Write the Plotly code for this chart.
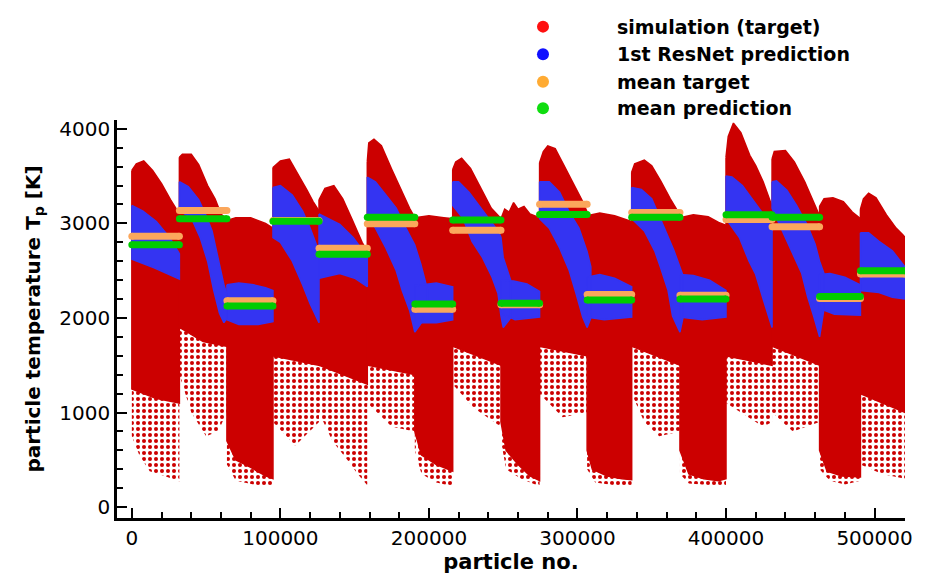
import plotly.graph_objects as go

# ---------------- data (x in thousands of particles, T in K) ----------------
SEG_BOUNDS_K = [0, 32, 64, 95, 126, 158.5, 190.5, 216, 248.5, 274.5, 306.5,
                336.5, 369, 400, 431, 463, 490.5, 520.5]

MEAN_TARGET = [2864, 3135, 2182, 3030, 2736, 2996, 2092, 2927, 2140,
               3203, 2247, 3114, 2240, 3040, 2965, 2205, 2465]
MEAN_PREDICTION = [2774, 3048, 2127, 3022, 2674, 3065, 2147, 3037, 2155,
                   3093, 2189, 3065, 2200, 3090, 3065, 2228, 2500]

# upper envelope of the simulated particle cloud, per segment
RED_TOP = [
    [(0, 3560), (3, 3630), (8, 3660), (14, 3560), (20, 3420), (26, 3250), (32, 3100)],
    [(32, 3700), (34, 3730), (40, 3730), (45, 3620), (51, 3400), (56, 3260), (60, 3100), (64, 3040)],
    [(64, 3030), (70, 3060), (80, 3060), (90, 3000), (95, 2950)],
    [(95, 3590), (100, 3660), (106, 3680), (112, 3520), (118, 3350), (122, 3230), (126, 3130)],
    [(126, 3250), (130, 3370), (136, 3400), (142, 3260), (148, 3050), (155, 2800), (158.5, 2700)],
    [(158.5, 3650), (159.5, 3850), (163, 3890), (168, 3820), (175, 3570), (182, 3330), (187, 3160), (190.5, 3060)],
    [(190.5, 3060), (200, 3080), (210, 3060), (216, 3050)],
    [(216, 3570), (218, 3650), (222, 3690), (228, 3580), (235, 3370), (242, 3160), (248.5, 3050)],
    [(248.5, 3050), (251, 3150), (254, 3120), (257, 3220), (260, 3150), (264, 3180), (268, 3100), (274.5, 3060)],
    [(274.5, 3640), (277, 3760), (280, 3820), (285, 3790), (290, 3640), (297, 3430), (303.5, 3230), (306.5, 3120)],
    [(306.5, 3080), (315, 3110), (325, 3080), (336.5, 3020)],
    [(336.5, 3540), (338.5, 3630), (345, 3670), (350, 3610), (356, 3450), (362.5, 3260), (369, 3090)],
    [(369, 3060), (378, 3090), (388, 3070), (395, 3010), (400, 2980)],
    [(400, 3700), (401.5, 3920), (405, 4060), (410, 3960), (416, 3720), (420, 3610), (425, 3440), (431, 3180)],
    [(431, 3680), (432.5, 3760), (440, 3770), (446, 3650), (453, 3440), (459.5, 3200), (463, 3080)],
    [(463, 3180), (466, 3260), (472, 3270), (479, 3230), (485, 3120), (490.5, 3050)],
    [(490.5, 3150), (492.5, 3260), (496, 3320), (501, 3270), (508, 3090), (514.5, 2950), (519, 2880), (520.5, 2850)],
]

# lower edge of the dense part of the cloud
RED_DENSE_BOTTOM = [
    [(0, 1250), (16, 1150), (32, 1100)],
    [(32, 1900), (48, 1750), (64, 1700)],
    [(64, 700), (70, 500), (80, 420), (90, 330), (95, 300)],
    [(95, 1600), (126, 1500)],
    [(126, 1500), (158.5, 1300)],
    [(158.5, 1500), (190.5, 1400)],
    [(190.5, 800), (195, 550), (205, 450), (216, 380)],
    [(216, 1700), (248.5, 1500)],
    [(248.5, 900), (252, 600), (260, 450), (268, 330), (274.5, 280)],
    [(274.5, 1700), (306.5, 1600)],
    [(306.5, 600), (310, 400), (320, 330), (330, 300), (336.5, 290)],
    [(336.5, 1700), (369, 1500)],
    [(369, 600), (375, 350), (385, 300), (395, 280), (400, 300)],
    [(400, 1600), (431, 1500)],
    [(431, 1700), (463, 1500)],
    [(463, 600), (468, 380), (478, 330), (490.5, 320)],
    [(490.5, 1200), (520.5, 1000)],
]

# lowest scattered particles
RED_SPARSE_BOTTOM = [
    [(0, 750), (5, 550), (12, 380), (22, 330), (32, 270)],
    [(32, 1400), (40, 1000), (50, 750), (58, 800), (64, 1000)],
    [(64, 450), (70, 280), (85, 230), (95, 220)],
    [(95, 900), (110, 650), (126, 900)],
    [(126, 1000), (135, 700), (145, 500), (152, 350), (158.5, 230)],
    [(158.5, 1100), (175, 850), (190.5, 800)],
    [(190.5, 600), (195, 350), (205, 260), (216, 220)],
    [(216, 1300), (230, 1050), (248.5, 850)],
    [(248.5, 700), (252, 400), (262, 300), (274.5, 220)],
    [(274.5, 1200), (290, 950), (306.5, 1000)],
    [(306.5, 400), (312, 260), (325, 230), (336.5, 220)],
    [(336.5, 1200), (345, 900), (355, 750), (369, 800)],
    [(369, 350), (375, 250), (390, 230), (400, 230)],
    [(400, 1100), (415, 950), (425, 850), (431, 900)],
    [(431, 1000), (445, 800), (463, 900)],
    [(463, 400), (470, 280), (480, 240), (490.5, 280)],
    [(490.5, 450), (505, 350), (520.5, 300)],
]

# 1st ResNet prediction band, per segment
BLUE_TOP = [
    [(0, 3190), (7.5, 3130), (16.5, 3020), (25.5, 2850), (32, 2680)],
    [(32, 3440), (38, 3390), (45, 3250), (50, 3080), (54, 2920), (58, 2640), (62, 2350), (64, 2250)],
    [(64, 2350), (72, 2370), (82, 2350), (90, 2320), (95, 2290)],
    [(95, 3380), (100, 3400), (108, 3300), (115, 3130), (120, 2950), (126, 2700)],
    [(126, 3100), (131, 3060), (140, 2990), (149, 2850), (158.5, 2650)],
    [(158.5, 3490), (164, 3440), (171, 3300), (178, 3160), (184.5, 2950), (190.5, 2770), (194.5, 2570), (199, 2300)],
    [(190.5, 2340), (205, 2370), (216, 2330)],
    [(216, 3440), (220, 3440), (227, 3330), (233.5, 3190), (240, 3050), (246.5, 2920), (248.5, 2850), (250, 2640), (255, 2400)],
    [(248.5, 2400), (257, 2390), (266, 2360), (274.5, 2280)],
    [(274.5, 3440), (281, 3440), (288, 3330), (294.5, 3120), (301, 2950), (306.5, 2700), (309, 2540)],
    [(306.5, 2430), (315, 2460), (325, 2420), (336.5, 2330)],
    [(336.5, 3380), (343, 3360), (350, 3260), (354, 3120), (358.5, 2950), (365, 2710), (369, 2540), (371, 2450)],
    [(369, 2460), (378, 2450), (389, 2400), (400, 2290)],
    [(400, 3500), (404, 3490), (411, 3400), (419, 3230), (425, 3100), (431, 2950)],
    [(431, 3440), (434, 3450), (441, 3350), (447.5, 3190), (454.5, 2990), (460, 2780), (463, 2600), (466, 2470)],
    [(463, 2460), (470, 2470), (480, 2430), (490.5, 2350)],
    [(490.5, 2900), (496, 2900), (503, 2810), (512, 2710), (520.5, 2540)],
]

BLUE_BOTTOM = [
    [(0, 2620), (15, 2530), (32, 2410)],
    [(32, 3130), (40, 3060), (46, 2850), (51, 2600), (55, 2300), (59, 2050), (62, 1950), (64, 2000)],
    [(64, 1980), (72, 1930), (85, 1930), (95, 1960)],
    [(95, 2850), (100, 2800), (108, 2600), (115, 2350), (120, 2150), (126, 1950)],
    [(126, 2420), (140, 2470), (150, 2420), (158.5, 2330)],
    [(158.5, 3080), (164, 2950), (171, 2740), (178, 2500), (182, 2290), (187, 2080), (190.5, 1850), (195, 1950), (199, 2150)],
    [(190.5, 1950), (205, 1950), (216, 1980)],
    [(216, 3190), (223, 3050), (229, 2810), (236, 2640), (242.5, 2430), (246.5, 2260), (248.5, 2020), (250, 1900), (255, 2000)],
    [(248.5, 2050), (258, 1980), (274.5, 2010)],
    [(274.5, 3050), (281, 2950), (288, 2740), (294.5, 2500), (299, 2260), (303.5, 2010), (306.5, 1900), (309, 2000)],
    [(306.5, 2010), (318, 1980), (336.5, 2010)],
    [(336.5, 3050), (345, 2920), (352, 2710), (356, 2530), (361, 2290), (364, 2020), (369, 1850), (371, 2000)],
    [(369, 2010), (384, 1980), (400, 2010)],
    [(400, 3050), (409, 2850), (415.5, 2600), (420, 2460), (425, 2200), (431, 1900)],
    [(431, 3160), (437.5, 2950), (444, 2710), (451, 2470), (455, 2220), (459, 2020), (463, 1800), (466, 2100)],
    [(463, 2100), (473, 2040), (490.5, 2030)],
    [(490.5, 2290), (503, 2270), (512, 2220), (520.5, 2200)],
]

LEGEND_LABELS = ["simulation (target)", "1st ResNet prediction", "mean target", "mean prediction"]

# ---------------- styles ----------------
RED = "#cc0000"
BLUE = "#3434f2"
ORANGE = "#fba75c"
GREEN = "#00cc00"
LEGEND_COLORS = ["#ff1010", "#1010ff", "#ffab33", "#10dd10"]
FONT = "DejaVu Sans"


def polygons(uppers, lowers):
    xs, ys = [], []
    for up, lo in zip(uppers, lowers):
        pts = list(up) + list(reversed(lo))
        xs += [p[0] * 1000 for p in pts] + [pts[0][0] * 1000, None]
        ys += [p[1] for p in pts] + [pts[0][1], None]
    return xs, ys


def mean_lines(values):
    xs, ys = [], []
    for i, v in enumerate(values):
        xs += [SEG_BOUNDS_K[i] * 1000, SEG_BOUNDS_K[i + 1] * 1000, None]
        ys += [v, v, None]
    return xs, ys


fig = go.Figure()

# sparse scattered particles: dotted fill
x, y = polygons(RED_DENSE_BOTTOM, RED_SPARSE_BOTTOM)
fig.add_trace(go.Scatter(x=x, y=y, mode="lines", fill="toself", fillcolor="rgba(0,0,0,0)",
                         fillpattern=dict(shape=".", fgcolor=RED, bgcolor="rgba(255,255,255,0)",
                                          fgopacity=1, size=6, solidity=0.36, fillmode="replace"),
                         line=dict(width=0, color="rgba(0,0,0,0)"), hoverinfo="skip", showlegend=False))
x, y = polygons(RED_TOP, RED_DENSE_BOTTOM)
fig.add_trace(go.Scatter(x=x, y=y, mode="lines", fill="toself", fillcolor=RED,
                         line=dict(width=1.5, color=RED), hoverinfo="skip", showlegend=False))
x, y = polygons(BLUE_TOP, BLUE_BOTTOM)
fig.add_trace(go.Scatter(x=x, y=y, mode="lines", fill="toself", fillcolor=BLUE,
                         line=dict(width=1.5, color=BLUE), hoverinfo="skip", showlegend=False))
x, y = mean_lines(MEAN_TARGET)
fig.add_trace(go.Scatter(x=x, y=y, mode="lines+markers", line=dict(width=7, color=ORANGE),
                         marker=dict(size=7, color=ORANGE), hoverinfo="skip", showlegend=False))
x, y = mean_lines(MEAN_PREDICTION)
fig.add_trace(go.Scatter(x=x, y=y, mode="lines+markers", line=dict(width=7, color=GREEN),
                         marker=dict(size=7, color=GREEN), hoverinfo="skip", showlegend=False))

# manual legend (marker circles + labels)
legend_rows_y = [1.2346, 1.1654, 1.0963, 1.0296]
shapes, annotations = [], []
for label, col, yy in zip(LEGEND_LABELS, LEGEND_COLORS, legend_rows_y):
    shapes.append(dict(type="circle", xref="paper", yref="paper", xsizemode="pixel", ysizemode="pixel",
                       xanchor=0.5406, yanchor=yy, x0=-6, x1=6, y0=-6, y1=6,
                       fillcolor=col, line=dict(width=0)))
    annotations.append(dict(xref="paper", yref="paper", x=0.632, y=yy, xanchor="left", yanchor="middle",
                            text=label, showarrow=False,
                            font=dict(family=FONT, size=19, color="black", weight="bold")))

axis_common = dict(showline=True, linecolor="black", linewidth=2.5, ticks="inside", ticklen=10,
                   tickwidth=2, tickcolor="black", showgrid=False, zeroline=False, mirror=False,
                   tickfont=dict(family=FONT, size=20, color="black"))

fig.update_layout(
    width=928, height=582,
    margin=dict(l=117, r=23, t=120, b=57),
    paper_bgcolor="white", plot_bgcolor="white",
    shapes=shapes, annotations=annotations,
    xaxis=dict(range=[-10000, 520500], tick0=0, dtick=100000, tickformat="d",
               minor=dict(ticks="inside", ticklen=6, tickwidth=1.5, tickcolor="black", tick0=0, dtick=20000),
               title=dict(text="particle no.", standoff=6,
                          font=dict(family=FONT, size=21, color="black", weight="bold")),
               **axis_common),
    yaxis=dict(range=[-115, 4093], tick0=0, dtick=1000, tickformat="d",
               minor=dict(ticks="inside", ticklen=6, tickwidth=1.5, tickcolor="black", tick0=0, dtick=200),
               title=dict(text="particle temperature T<sub>p</sub> [K]", standoff=14,
                          font=dict(family=FONT, size=20, color="black", weight="bold")),
               **axis_common),
)

fig.write_html("out.html")
